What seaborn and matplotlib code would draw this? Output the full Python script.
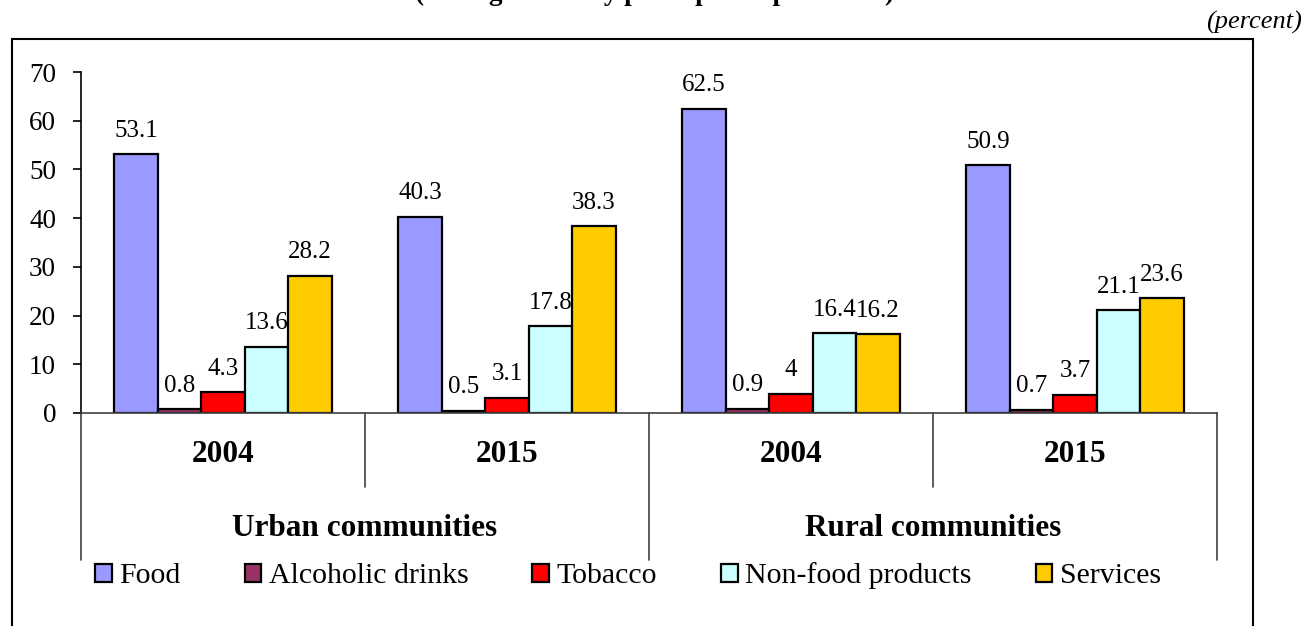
import matplotlib
matplotlib.use("Agg")
import matplotlib.pyplot as plt
import matplotlib.transforms as mtransforms
from matplotlib.patches import Rectangle, Patch
import pandas as pd
import seaborn as sns

# Expenditure structure, percent
communities = ["Urban communities", "Rural communities"]
years = ["2004", "2015"]
items = ["Food", "Alcoholic drinks", "Tobacco", "Non-food products", "Services"]
colors = ["#9999FF", "#993366", "#FF0000", "#CCFFFF", "#FFCC00"]

urban_2004 = [53.1, 0.8, 4.3, 13.6, 28.2]
urban_2015 = [40.3, 0.5, 3.1, 17.8, 38.3]
rural_2004 = [62.5, 0.9, 4.0, 16.4, 16.2]
rural_2015 = [50.9, 0.7, 3.7, 21.1, 23.6]

series = {
    ("Urban communities", "2004"): urban_2004,
    ("Urban communities", "2015"): urban_2015,
    ("Rural communities", "2004"): rural_2004,
    ("Rural communities", "2015"): rural_2015,
}

rows = []
for comm in communities:
    for yr in years:
        for item, val in zip(items, series[(comm, yr)]):
            rows.append({"slot": f"{comm} {yr}", "community": comm,
                         "year": yr, "item": item, "value": val})
df = pd.DataFrame(rows)
slots = [f"{c} {y}" for c in communities for y in years]

sns.set_theme(style="white")
plt.rcParams["font.family"] = ["Liberation Serif", "DejaVu Serif"]
plt.rcParams["text.color"] = "black"
plt.rcParams["ytick.color"] = "black"
plt.rcParams["ytick.labelcolor"] = "black"

W, H = 1307, 626
fig = plt.figure(figsize=(W / 100, H / 100), dpi=100)
fig.patch.set_facecolor("white")

# Axes placement in pixels
x0, x1, y_top, y_zero = 81, 1217, 72, 413
ax = fig.add_axes([x0 / W, (H - y_zero) / H, (x1 - x0) / W, (y_zero - y_top) / H])

sns.barplot(data=df, x="slot", y="value", hue="item", order=slots,
            hue_order=items, palette=colors, saturation=1, width=0.765,
            edgecolor="black", linewidth=1.6, legend=False, ax=ax)

ax.set_xlim(-0.5, len(slots) - 0.5)
ax.set_ylim(0, 70)
ax.set_yticks(range(0, 71, 10))
ax.set_xticks([])
ax.set_xlabel("")
ax.set_ylabel("")
ax.tick_params(axis="y", left=True, length=6, width=1.2, pad=12,
               labelsize=19.5, color="black", labelcolor="black",
               direction="out")
for side in ("top", "right"):
    ax.spines[side].set_visible(False)
ax.spines["left"].set_color("black")
ax.spines["left"].set_linewidth(1.2)
ax.spines["bottom"].set_color("#404040")
ax.spines["bottom"].set_linewidth(1.2)

# Value labels over each bar
for cont in ax.containers:
    ax.bar_label(cont, labels=[f"{v:g}" for v in cont.datavalues],
                 padding=9, fontsize=18, color="black")

# Two-level category axis
trans = mtransforms.blended_transform_factory(ax.transData, ax.transAxes)
ax_h = y_zero - y_top
short_drop = -(487 - y_zero) / ax_h
long_drop = -(560 - y_zero) / ax_h
year_y = -(455 - y_zero) / ax_h
comm_y = -(528 - y_zero) / ax_h
line_kw = dict(color="#404040", lw=1.2, transform=trans, clip_on=False)

n_years = len(years)
for i in range(len(slots) + 1):
    xb = i - 0.5
    bottom = long_drop if i % n_years == 0 else short_drop
    ax.plot([xb, xb], [0, bottom], **line_kw)
for i, s in enumerate(slots):
    ax.text(i, year_y, df.loc[df.slot == s, "year"].iloc[0], transform=trans,
            ha="center", va="center", fontsize=22.5, fontweight="bold",
            color="black")
for j, comm in enumerate(communities):
    xc = j * n_years + (n_years - 1) / 2
    ax.text(xc, comm_y, comm, transform=trans, ha="center", va="center",
            fontsize=22.5, fontweight="bold", color="black")

# Legend row
handles = [Patch(facecolor=c, edgecolor="black", linewidth=1.6, label=l)
           for c, l in zip(colors, items)]
leg = fig.legend(handles=handles, loc="center", ncol=5,
                 bbox_to_anchor=(628 / W, (H - 576) / H), frameon=False,
                 fontsize=21.5, handlelength=0.55, handleheight=0.55,
                 handletextpad=0.25, columnspacing=2.15)
for t in leg.get_texts():
    t.set_color("black")

# Chart frame (runs past the lower edge)
fig.patches.append(Rectangle((12 / W, -0.2), (1253 - 12) / W,
                             (H - 39) / H + 0.2, transform=fig.transFigure,
                             fill=False, edgecolor="black", linewidth=1.5))

# Unit note and heading line above the frame
fig.text(1302 / W, (H - 22) / H, "(percent)", ha="right", va="center",
         fontsize=19, style="italic")
fig.text(655 / W, 1.0, "(average monthly per capita expenditure)",
         ha="center", va="baseline", fontsize=19.5, fontweight="bold")

fig.savefig("out.png", dpi=100)
